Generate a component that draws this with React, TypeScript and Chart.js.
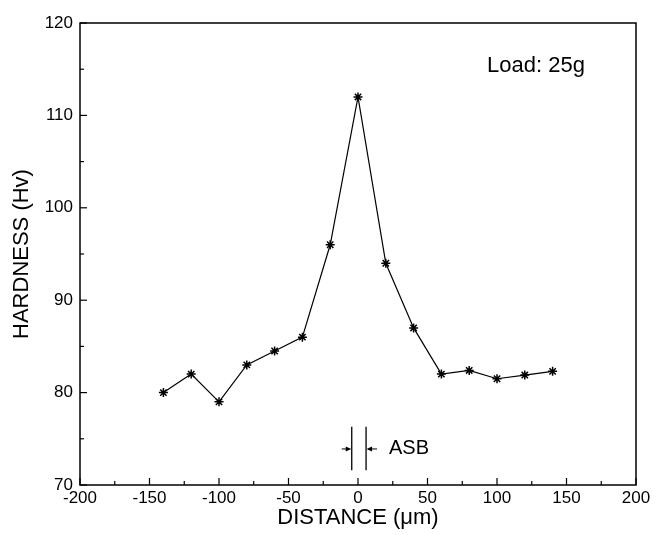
import React, { useEffect, useRef } from 'react';
import { Chart, registerables } from 'chart.js';

Chart.register(...registerables);

// ---- data ----
const distances = [-140, -120, -100, -80, -60, -40, -20, 0, 20, 40, 60, 80, 100, 120, 140];
const hardness = [80, 82, 79, 83, 84.5, 86, 96, 112, 94, 87, 82, 82.4, 81.5, 81.9, 82.3];
const xTickValues = [-200, -150, -100, -50, 0, 50, 100, 150, 200];
const yTickValues = [70, 80, 90, 100, 110, 120];
const xRange = [-200, 200];
const yRange = [70, 120];
const loadLabel = 'Load: 25g';
const asbLabel = 'ASB';
// ASB band (data units)
const asbEdges = [-4.5, 5.8];
const asbSpan = [71.6, 76.3];
const asbArrowLevel = 73.9;
const loadAnchor = [92.8, 115.3];
const asbTextAnchor = [22.3, 73.9];

const FONT = "'Liberation Sans', Arial, Helvetica, sans-serif";

const framePlugin = {
  id: 'frameAndTicks',
  afterDraw(chart: any) {
    const { ctx, chartArea: a, scales } = chart;
    const xs = scales.x;
    const ys = scales.y;
    ctx.save();
    ctx.strokeStyle = '#000';
    ctx.lineWidth = 1.5;
    ctx.strokeRect(a.left, a.top, a.right - a.left, a.bottom - a.top);
    ctx.lineWidth = 1.2;
    for (let v = xRange[0]; v <= xRange[1]; v += 25) {
      const px = xs.getPixelForValue(v);
      const len = v % 50 === 0 ? 7 : 4;
      ctx.beginPath();
      ctx.moveTo(px, a.bottom);
      ctx.lineTo(px, a.bottom - len);
      ctx.stroke();
    }
    for (let v = yRange[0]; v <= yRange[1]; v += 5) {
      const py = ys.getPixelForValue(v);
      const len = v % 10 === 0 ? 7 : 4;
      ctx.beginPath();
      ctx.moveTo(a.left, py);
      ctx.lineTo(a.left + len, py);
      ctx.stroke();
    }
    ctx.restore();
  },
};

const annotationPlugin = {
  id: 'asbAnnotation',
  afterDatasetsDraw(chart: any) {
    const { ctx, scales } = chart;
    const xs = scales.x;
    const ys = scales.y;
    const xl = xs.getPixelForValue(asbEdges[0]);
    const xr = xs.getPixelForValue(asbEdges[1]);
    const yt = ys.getPixelForValue(asbSpan[1]);
    const yb = ys.getPixelForValue(asbSpan[0]);
    const ya = ys.getPixelForValue(asbArrowLevel);
    ctx.save();
    ctx.strokeStyle = '#000';
    ctx.fillStyle = '#000';
    ctx.lineWidth = 1.3;
    ctx.beginPath();
    ctx.moveTo(xl, yt);
    ctx.lineTo(xl, yb);
    ctx.moveTo(xr, yt);
    ctx.lineTo(xr, yb);
    ctx.stroke();
    // left arrow (pointing right)
    ctx.lineWidth = 1;
    ctx.beginPath();
    ctx.moveTo(xl - 10, ya);
    ctx.lineTo(xl - 4, ya);
    ctx.stroke();
    ctx.beginPath();
    ctx.moveTo(xl - 0.5, ya);
    ctx.lineTo(xl - 6, ya - 2.5);
    ctx.lineTo(xl - 6, ya + 2.5);
    ctx.closePath();
    ctx.fill();
    // right arrow (pointing left)
    ctx.beginPath();
    ctx.moveTo(xr + 11, ya);
    ctx.lineTo(xr + 4, ya);
    ctx.stroke();
    ctx.beginPath();
    ctx.moveTo(xr + 0.5, ya);
    ctx.lineTo(xr + 6, ya - 2.5);
    ctx.lineTo(xr + 6, ya + 2.5);
    ctx.closePath();
    ctx.fill();
    // texts
    ctx.textAlign = 'left';
    ctx.textBaseline = 'middle';
    ctx.font = `20px ${FONT}`;
    ctx.fillText(asbLabel, xs.getPixelForValue(asbTextAnchor[0]), ys.getPixelForValue(asbTextAnchor[1]));
    ctx.font = `22px ${FONT}`;
    ctx.fillText(loadLabel, xs.getPixelForValue(loadAnchor[0]), ys.getPixelForValue(loadAnchor[1]));
    ctx.restore();
  },
};

export default function App() {
  const canvasRef = useRef<HTMLCanvasElement | null>(null);

  useEffect(() => {
    if (!canvasRef.current) return;
    const chart = new Chart(canvasRef.current, {
      type: 'line',
      data: {
        datasets: [
          {
            data: distances.map((d, i) => ({ x: d, y: hardness[i] })),
            borderColor: '#000',
            borderWidth: 1.2,
            backgroundColor: '#000',
            pointStyle: 'star',
            pointRadius: 4.5,
            pointBorderWidth: 1.5,
            pointBorderColor: '#000',
            tension: 0,
            fill: false,
          },
        ],
      },
      options: {
        animation: false,
        responsive: true,
        maintainAspectRatio: false,
        layout: { padding: { top: 23, right: 29, left: 0, bottom: 0 } },
        plugins: { legend: { display: false }, tooltip: { enabled: false } },
        scales: {
          x: {
            type: 'linear',
            min: xRange[0],
            max: xRange[1],
            afterBuildTicks: (s: any) => {
              s.ticks = xTickValues.map((v) => ({ value: v }));
            },
            afterFit: (s: any) => {
              s.height = 50;
            },
            grid: { display: false, drawTicks: false },
            border: { display: false },
            ticks: { color: '#000', padding: 3, font: { family: FONT, size: 17 }, maxRotation: 0 },
            title: {
              display: true,
              text: 'DISTANCE (μm)',
              color: '#000',
              font: { family: FONT, size: 22 },
              padding: { top: 0, bottom: 4 },
            },
          },
          y: {
            type: 'linear',
            min: yRange[0],
            max: yRange[1],
            afterBuildTicks: (s: any) => {
              s.ticks = yTickValues.map((v) => ({ value: v }));
            },
            afterFit: (s: any) => {
              s.width = 80;
            },
            grid: { display: false, drawTicks: false },
            border: { display: false },
            ticks: { color: '#000', padding: 7, font: { family: FONT, size: 17 } },
            title: {
              display: true,
              text: 'HARDNESS (Hv)',
              color: '#000',
              font: { family: FONT, size: 22 },
              padding: { top: 9, bottom: 0 },
            },
          },
        },
      },
      plugins: [framePlugin, annotationPlugin],
    });
    return () => chart.destroy();
  }, []);

  return (
    <div style={{ position: 'absolute', left: 0, top: 0, width: 665, height: 535, background: '#fff' }}>
      <canvas ref={canvasRef} />
    </div>
  );
}
